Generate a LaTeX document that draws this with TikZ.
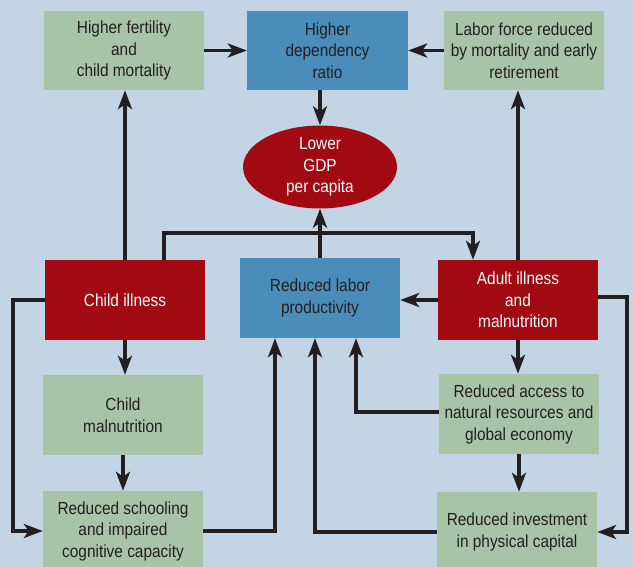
\documentclass[tikz,border=0pt]{standalone}
\usepackage{fontspec}
\setmainfont{Liberation Sans}[FakeStretch=0.88]
\usetikzlibrary{arrows.meta,shapes.geometric}
\definecolor{bg}{HTML}{C3D5E4}
\definecolor{gbox}{HTML}{A7C4A6}
\definecolor{bbox}{HTML}{4A8DBA}
\definecolor{rbox}{HTML}{A10A10}
\definecolor{ink}{HTML}{231F20}
\tikzset{
  box/.style={rectangle, minimum width=160pt, minimum height=80pt, inner sep=0pt, align=center,
    font=\fontsize{17.5}{21.5}\selectfont},
  greenbox/.style={box, fill=gbox, text=ink},
  bluebox/.style={box, fill=bbox, text=ink},
  redbox/.style={box, fill=rbox, text=white},
  arr/.style={draw=ink, line width=3.3pt, -{Stealth[length=19pt,width=14pt,inset=5pt]}},
  ln/.style={draw=ink, line width=3.3pt}
}
\begin{document}
\begin{tikzpicture}[x=1pt,y=-1pt]
\fill[bg] (0,0) rectangle (633,567);
\useasboundingbox (0,0) rectangle (633,567);
\clip (0,0) rectangle (633,567);
% nodes
\node[greenbox, minimum height=79pt] (fert) at (124,50.5) {Higher fertility\\and\\child mortality};
\node[bluebox, minimum width=161pt, minimum height=79pt] (dep) at (327.5,50.5) {Higher\\dependency\\ratio};
\node[greenbox, minimum height=79pt] (labor) at (524,50.5) {Labor force reduced\\by mortality and early\\retirement};
\node[ellipse, fill=rbox, text=white, minimum width=154pt, minimum height=78pt, inner sep=0pt, align=center,
  font=\fontsize{17.5}{21.5}\selectfont] (gdp) at (320,167) {Lower\\GDP\\per capita};
\node[redbox] (child) at (125,300) {Child illness};
\node[bluebox] (prod) at (320,298) {Reduced labor\\productivity};
\node[redbox] (adult) at (518,300) {Adult illness\\and\\malnutrition};
\node[greenbox] (cmal) at (123,415) {Child\\malnutrition};
\node[greenbox] (access) at (519,414) {Reduced access to\\natural resources and\\global economy};
\node[greenbox] (school) at (123,531) {Reduced schooling\\and impaired\\cognitive capacity};
\node[greenbox] (invest) at (517,532) {Reduced investment\\in physical capital};
% helper coordinates
\coordinate (j1) at (164,233);
\coordinate (j2) at (473,233);
\coordinate (lx) at (13,0);
\coordinate (rx) at (627,0);
\coordinate (sx) at (275,0);
\coordinate (ax) at (356,0);
\coordinate (ix) at (315,0);
% connectors
\draw[arr] (fert.east) -- (dep.west);
\draw[arr] (labor.west) -- (dep.east);
\draw[arr] (gdp.north |- dep.south) -- (gdp.north);
\draw[arr] (child.north) -- (child.north |- fert.south);
\draw[arr] (adult.north) -- (adult.north |- labor.south);
\draw[arr] (j1 |- child.north) -- (j1) -- (j2) -- (j2 |- adult.north);
\draw[arr] (prod.north) -- (gdp.south);
\draw[arr] (child.south) -- (child.south |- cmal.north);
\draw[arr] (cmal.south) -- (cmal.south |- school.north);
\draw[arr] (child.west) -- (child.west -| lx) |- (school.west);
\draw[arr] (school.east) -| (sx |- prod.south);
\draw[arr] (adult.west) -- (adult.west -| prod.east);
\draw[arr] ([yshift=3pt]adult.east) -- ([yshift=3pt]adult.east -| rx) |- (invest.east);
\draw[arr] (adult.south) -- (adult.south |- access.north);
\draw[arr] (access.south) -- (access.south |- invest.north);
\draw[arr] ([yshift=2pt]access.west) -| (ax |- prod.south);
\draw[arr] (invest.west) -| (ix |- prod.south);
\end{tikzpicture}
\end{document}
